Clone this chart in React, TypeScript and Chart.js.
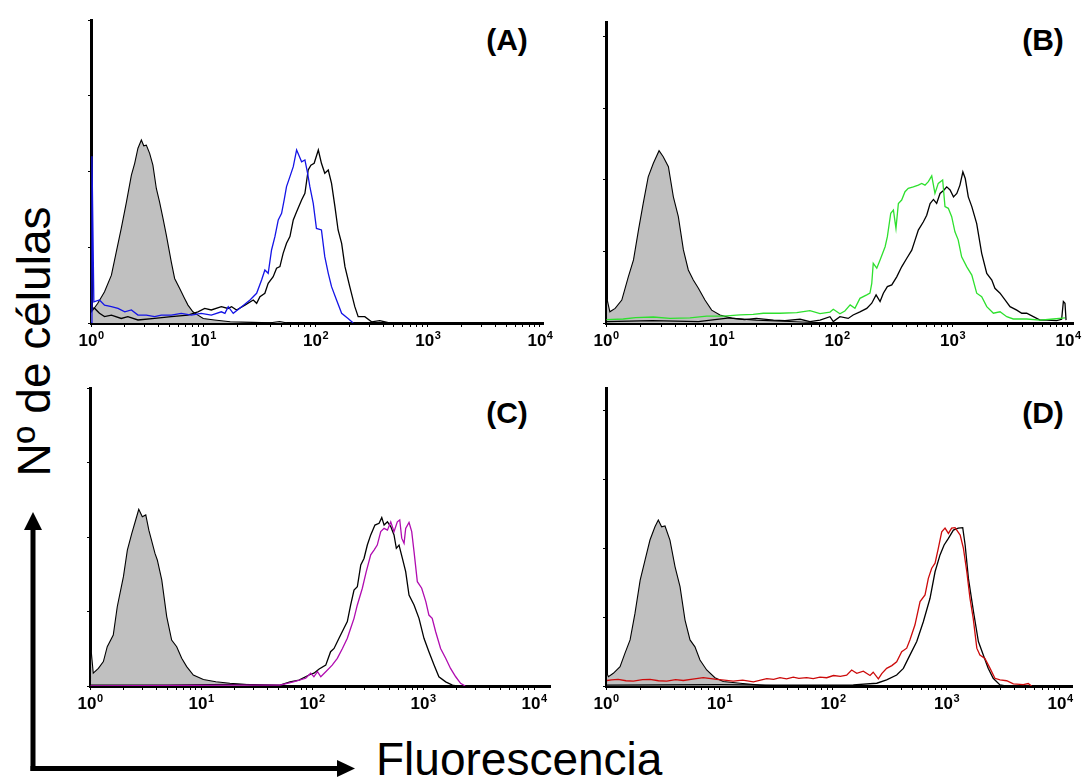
import React, { useEffect, useRef } from 'react';
import { Chart, registerables } from 'chart.js';

Chart.register(...registerables);

type Pt = [number, number];

// ---- axis ticks ----
const TICK_VALUES = [1, 10, 100, 1000, 10000];
const TICK_BASE = '10';
const TICK_EXPONENTS = ['0', '1', '2', '3', '4'];
const MINOR_MULTIPLIERS = [1, 2, 3, 4, 5, 6, 7, 8, 9];
const Y_TICK_STEP = 25;

// ---- panel labels / titles ----
const PANEL_LABELS = ['(A)', '(B)', '(C)', '(D)'];
const Y_TITLE = 'Nº de células';
const X_TITLE = 'Fluorescencia';

// ---- data: [fluorescence, cell count (% of axis)] ----
const A_CONTROL: Pt[] = [[1.0,3.5],[1.04,4.3],[1.15,6.5],[1.32,10.3],[1.52,15.8],[1.68,23.5],[1.86,31.2],[2.07,40],[2.29,48.8],[2.45,52.7],[2.62,57.7],[2.81,60.4],[2.95,58.5],[3.11,58.7],[3.33,56],[3.56,52.1],[3.82,44.4],[4.08,40],[4.38,34.5],[4.69,29],[5.19,20.2],[5.56,14.7],[6.17,11.4],[6.82,8.1],[7.31,5.9],[8.09,3.7],[8.97,2.6],[10,1.5],[12.6,1.0],[17.4,0.4],[27.5,0.2],[39.8,0.1],[47.9,0.5],[56.2,0]];
const A_BLACK: Pt[] = [[1.02,5],[1.08,4.8],[1.19,3.2],[1.32,2.1],[1.52,2.6],[1.86,1.5],[2.13,2.1],[2.62,1.0],[3.69,1.5],[5.19,2.1],[7.31,2.6],[8.97,3.7],[10.3,4.8],[11.8,4.3],[14.5,5.4],[16.6,4.8],[17.9,5.4],[19.8,4.3],[23.5,5.9],[27.9,7.6],[29.9,6.5],[32.0,8.7],[35.4,9.8],[37.9,13.1],[42.0,15.3],[45.0,18.1],[48.2,18.6],[51.5,23],[55.2,26.3],[59.2,28.5],[63.4,34],[67.9,36.7],[75.2,40.6],[80.5,42.8],[86.1,50.5],[91.0,52.1],[97.3,52.7],[106,57.1],[113,52.7],[121,49.4],[130,50.5],[139,46.1],[149,38.4],[159,30.7],[171,26.3],[183,18.6],[202,12],[224,5.4],[240,2.1],[275,2.1],[316,0.4],[374,0.8],[445,0.1],[562,0]];
const A_BLUE: Pt[] = [[1.0,0],[1.02,55],[1.06,7.0],[1.19,7.6],[1.32,5.9],[1.52,5.4],[1.74,4.8],[2.0,3.7],[2.29,4.3],[2.62,2.6],[3.11,2.6],[3.69,2.1],[4.23,2.6],[5.19,2.6],[6.37,3.2],[7.82,2.6],[9.59,3.2],[11.8,2.6],[14.5,3.7],[15.6,3.2],[16.7,5.4],[18.5,3.2],[22.0,5.4],[26.1,7.6],[29.9,9.8],[33.1,14.2],[35.4,17.5],[37.9,16.4],[40.6,24.1],[43.5,28.5],[46.6,34],[49.9,36.2],[52.6,40.6],[55.2,45],[59.2,48.3],[63.4,51.6],[67.9,57.1],[71.1,55.4],[75.2,53.2],[80.5,53.8],[85.1,49.4],[89.1,45],[95.5,39.5],[102,31.2],[113,30.7],[121,21.9],[130,16.4],[139,12],[154,7.6],[171,3.2],[195,1.5],[217,0]];

const B_CONTROL: Pt[] = [[1.0,0],[1.01,9.2],[1.08,3.9],[1.20,5.1],[1.37,8],[1.56,16.1],[1.73,22],[1.91,32.4],[2.10,41.7],[2.32,51],[2.57,55.7],[2.88,60.1],[3.13,58],[3.47,54.5],[3.83,44],[4.23,37.1],[4.68,25.5],[5.16,18.5],[5.70,15],[6.31,12.1],[7.19,8],[8.22,4.5],[9.70,2.8],[12.6,1.6],[20.0,1.0],[38.9,0.5],[75.9,0.1],[100,0]];
const B_BLACK: Pt[] = [[1.01,0.5],[2.51,0.8],[6.31,0.5],[11.7,1.8],[15.8,1.2],[20.0,1.6],[28.2,1.0],[35.5,0.8],[47.9,1.3],[58.3,0.5],[71.3,1.0],[86.9,2.2],[92.9,0.5],[106,2.2],[125,1.6],[138,2.8],[158,3.9],[181,5.1],[200,6.9],[218,9.8],[236,7.5],[252,10.4],[273,12.7],[298,13.3],[329,16.1],[363,19.6],[401,22.5],[444,25.4],[474,28.9],[506,32.4],[560,35.3],[598,37.6],[640,41.7],[684,43.1],[729,41.7],[780,45.2],[845,46.4],[891,47.5],[953,46.4],[1020,44],[1090,45.2],[1160,48.1],[1230,52.7],[1290,50.4],[1370,44],[1470,40.6],[1620,34.7],[1790,24.3],[1980,17.3],[2190,15],[2330,12.1],[2580,10.4],[2850,8.1],[3150,5.7],[3600,4.5],[3980,3.4],[4390,3.4],[5010,2.2],[5730,1.0],[6530,1.0],[7980,0.8],[8810,1.3],[9120,7.5],[9420,6.9],[9620,1.0]];
const B_GREEN: Pt[] = [[1.01,1.2],[1.41,1.4],[1.8,1.9],[2.57,2.1],[3.58,1.6],[5.33,1.8],[7.45,2.4],[10.4,2.4],[14.5,2.8],[18.8,3.0],[23.0,3.4],[32.1,3.4],[44.8,3.6],[58.3,4.3],[71.3,3.3],[86.9,3.8],[92.9,4.8],[106,3.2],[117,4.2],[130,6.3],[143,5.1],[158,8.6],[181,9.8],[193,10.4],[200,13.8],[206,20.8],[221,19.1],[236,22],[261,26.6],[273,30.1],[292,38.3],[308,39.4],[324,33],[340,41.7],[363,42.9],[388,45.8],[414,47],[458,47.5],[506,48.1],[541,48.7],[578,48.1],[618,49.3],[661,51.3],[705,45.2],[753,48.7],[822,49.9],[861,40.6],[920,40],[984,37.1],[1050,31.8],[1120,29],[1200,23.1],[1330,19.6],[1470,16.7],[1620,10.4],[1790,9.2],[1980,5.7],[2260,3.4],[2580,3.9],[2950,2.2],[3360,1.4],[4390,1.4],[5730,1.0],[7460,1.4],[9420,1.8]];

const C_CONTROL: Pt[] = [[1.0,0],[1.01,14.3],[1.07,4.3],[1.19,5.9],[1.32,8.2],[1.43,13.2],[1.62,17.1],[1.76,26.6],[2.0,36.7],[2.17,45.6],[2.38,51.2],[2.58,55.7],[2.75,59.3],[2.96,56.8],[3.18,57.4],[3.39,52.3],[3.85,44.5],[4.04,42.3],[4.43,35.6],[4.91,23.3],[5.44,15.4],[6.04,13.2],[6.70,9.3],[7.43,6.5],[8.53,3.7],[10.5,2.2],[13.6,1.4],[18.2,0.9],[29.6,0.3],[39.8,0]];
const C_BLACK: Pt[] = [[1.01,0.3],[5.0,0.3],[20,0.5],[40,0.4],[51.5,0.3],[63.4,1.4],[76.4,2.0],[94.0,3.7],[104,4.3],[116,5.7],[133,7.0],[147,11.5],[158,12.6],[175,16],[194,19.4],[208,21.6],[223,27.2],[239,32.2],[256,33.3],[275,40.6],[294,42.8],[315,47.3],[338,50.7],[369,54],[402,54.6],[425,56.5],[446,54],[478,55.1],[512,53.5],[548,50.7],[575,46.2],[608,47.3],[652,42.8],[698,38.4],[748,30.5],[830,27.2],[920,22.7],[1020,16],[1130,11.5],[1260,7.0],[1390,3.1],[1600,1.4],[1840,0.3],[2000,0]];
const C_MAGENTA: Pt[] = [[1.01,0],[20,0.3],[51.5,0.3],[67.9,1.4],[87.7,2.6],[97.3,4.3],[104,3.1],[112,4.8],[120,3.1],[133,4.8],[152,7.0],[169,9.3],[188,12.6],[208,16],[223,19.4],[239,22.7],[256,27.2],[284,32.8],[308,38.4],[338,44],[362,45.6],[387,47.3],[416,51.8],[446,52.9],[478,52.3],[512,55.1],[548,51.8],[587,55.1],[617,55.7],[643,49.6],[675,47.9],[698,52.9],[748,54.9],[791,51.8],[830,45.1],[889,35.0],[973,32.8],[1060,28.3],[1130,23.8],[1210,22.7],[1300,18.2],[1440,12.6],[1600,9.3],[1770,5.9],[1970,3.1],[2180,0.9],[2400,0]];

const D_CONTROL: Pt[] = [[1.0,0],[1.01,5],[1.05,3.4],[1.16,4.6],[1.33,7.0],[1.47,11.9],[1.63,16.7],[1.80,26.3],[2.0,38.4],[2.21,45.7],[2.44,52.9],[2.70,57.7],[2.89,60.2],[3.09,57.7],[3.31,58],[3.66,52.9],[4.06,43.2],[4.49,36],[4.97,23.9],[5.50,16.7],[6.08,14.2],[6.73,9.4],[7.71,5.8],[9.12,3.0],[10.8,1.6],[15.2,1.0],[21.3,0.4],[28.2,0]];
const D_BLACK: Pt[] = [[1.01,0.3],[10,0.5],[30,0.3],[100,0.3],[151,0.4],[243,1.0],[297,2.2],[364,4.0],[417,6.4],[476,11.2],[547,16.1],[625,23.3],[716,31.8],[793,41.4],[877,47.5],[953,51.1],[1040,53.5],[1150,56.5],[1270,57.2],[1390,57.4],[1460,51.1],[1560,39],[1730,26.9],[1910,16.1],[2110,11.2],[2330,6.4],[2580,2.8],[2960,0.4],[3310,0]];
const D_RED: Pt[] = [[1.02,2.0],[1.12,2.2],[1.28,2.4],[1.5,1.9],[1.74,1.8],[2.1,2.3],[2.44,2.4],[2.9,1.9],[3.43,1.8],[4.1,2.3],[4.80,2.0],[5.8,2.5],[7.19,3.0],[9.44,2.4],[11,2.1],[13.2,1.8],[16,2.1],[19.9,1.5],[26.1,2.7],[30,2.4],[34.1,3.0],[39,2.6],[44.7,3.2],[50,2.8],[58.6,3.0],[67,2.7],[76.7,3.2],[88,3.0],[101,3.8],[116,3.5],[132,3.9],[146,5.8],[162,4.6],[185,5.4],[212,3.8],[226,5.0],[251,2.6],[269,4.5],[297,6.4],[330,7.4],[364,8.8],[403,12.4],[446,13.7],[476,16.7],[527,22.1],[585,30.6],[647,33],[692,39],[741,42.7],[793,44.5],[847,49.9],[908,55.9],[971,57.2],[1040,55.3],[1110,57.2],[1190,57.4],[1320,54.7],[1410,49.9],[1510,41.4],[1610,31.8],[1720,24.5],[1850,13.7],[1970,11.2],[2180,10.0],[2420,6.4],[2670,2.8],[2960,2.2],[3390,1.9],[3880,0.8],[4750,0.5],[5250,0.9],[5620,0]];

const FONT = '"Liberation Sans", Arial, Helvetica, sans-serif';

interface PanelCfg {
  label: string;
  control: Pt[];
  black: Pt[];
  test: Pt[];
  color: string;
  left: number; right: number; top: number; bottom: number;
  xMax: number; yMax: number;
  labelX: number; labelY: number;
}

const PANELS: PanelCfg[] = [
  { label: PANEL_LABELS[0], control: A_CONTROL, black: A_BLACK, test: A_BLUE, color: '#1414e6',
    left: 91, right: 543, top: 20, bottom: 323, xMax: 10640, yMax: 100, labelX: 507, labelY: 42 },
  { label: PANEL_LABELS[1], control: B_CONTROL, black: B_BLACK, test: B_GREEN, color: '#2ee02e',
    left: 606, right: 1073, top: 22, bottom: 323, xMax: 11050, yMax: 105, labelX: 1043, labelY: 42 },
  { label: PANEL_LABELS[2], control: C_CONTROL, black: C_BLACK, test: C_MAGENTA, color: '#b00cb0',
    left: 90, right: 550, top: 388, bottom: 686, xMax: 13930, yMax: 100, labelX: 507, labelY: 415 },
  { label: PANEL_LABELS[3], control: D_CONTROL, black: D_BLACK, test: D_RED, color: '#cc0a0a',
    left: 606, right: 1072, top: 388, bottom: 686, xMax: 12760, yMax: 108, labelX: 1043, labelY: 415 },
];

const PAD_L = 20, PAD_T = 12, PAD_R = 22, PAD_B = 32;

function logTicks() {
  const ticks: { value: number; major: boolean }[] = [];
  for (let d = 0; d < TICK_VALUES.length - 1; d++) {
    for (const m of MINOR_MULTIPLIERS) {
      ticks.push({ value: m * TICK_VALUES[d], major: m === 1 });
    }
  }
  ticks.push({ value: TICK_VALUES[TICK_VALUES.length - 1], major: true });
  return ticks;
}

// draws "10" with a raised exponent under each decade tick
const powerLabels = {
  id: 'powerLabels',
  afterDraw(chart: any) {
    const { ctx, chartArea } = chart;
    const x = chart.scales.x;
    ctx.save();
    ctx.fillStyle = '#000';
    ctx.textBaseline = 'alphabetic';
    ctx.textAlign = 'left';
    TICK_VALUES.forEach((v, i) => {
      const px = x.getPixelForValue(v);
      ctx.font = `bold 17px ${FONT}`;
      const wb = ctx.measureText(TICK_BASE).width;
      ctx.font = `bold 11px ${FONT}`;
      const we = ctx.measureText(TICK_EXPONENTS[i]).width;
      const x0 = px - (wb + we) / 2;
      ctx.font = `bold 17px ${FONT}`;
      ctx.fillText(TICK_BASE, x0, chartArea.bottom + 23);
      ctx.font = `bold 11px ${FONT}`;
      ctx.fillText(TICK_EXPONENTS[i], x0 + wb + 0.5, chartArea.bottom + 15.5);
    });
    ctx.restore();
  },
};

const toXY = (pts: Pt[]) => pts.map(([x, y]) => ({ x, y }));

function Panel({ p }: { p: PanelCfg }) {
  const ref = useRef<HTMLCanvasElement>(null);
  const W = p.right - p.left + PAD_L + PAD_R;
  const H = p.bottom - p.top + PAD_T + PAD_B;
  useEffect(() => {
    if (!ref.current) return;
    const line = { pointRadius: 0, tension: 0, fill: false, borderWidth: 1.3 };
    // Chart.js paints the first dataset on top: coloured test, then black, then the filled control underneath
    const chart = new Chart(ref.current, {
      type: 'line',
      data: {
        datasets: [
          { ...line, data: toXY(p.test), borderColor: p.color },
          { ...line, data: toXY(p.black), borderColor: '#000' },
          { ...line, data: toXY(p.control), borderColor: '#000', backgroundColor: '#c0c0c0', fill: 'origin', borderWidth: 1.1 },
        ],
      },
      plugins: [powerLabels],
      options: {
        responsive: false,
        animation: false,
        events: [],
        layout: { padding: { top: PAD_T, right: PAD_R, left: 0, bottom: 0 }, autoPadding: false },
        plugins: { legend: { display: false }, tooltip: { enabled: false }, title: { display: false } },
        scales: {
          x: {
            type: 'logarithmic',
            min: 1,
            max: p.xMax,
            afterFit: (s: any) => { s.height = PAD_B; },
            afterBuildTicks: (s: any) => { s.ticks = logTicks(); },
            ticks: { display: false, autoSkip: false },
            grid: { drawOnChartArea: false, drawTicks: true, tickLength: 4, color: '#000', tickColor: '#000', lineWidth: 1 },
            border: { display: true, color: '#000', width: 3 },
          },
          y: {
            type: 'linear',
            min: 0,
            max: p.yMax,
            afterFit: (s: any) => { s.width = PAD_L; },
            afterBuildTicks: (s: any) => { s.ticks = s.ticks.filter((t: any) => t.value % Y_TICK_STEP === 0); },
            ticks: { display: false, stepSize: Y_TICK_STEP },
            grid: { drawOnChartArea: false, drawTicks: true, tickLength: 3, color: '#000', tickColor: '#000', lineWidth: 1 },
            border: { display: true, color: '#000', width: 3 },
          },
        },
      } as any,
    });
    return () => chart.destroy();
  }, []);
  return (
    <canvas
      ref={ref}
      width={W}
      height={H}
      style={{ position: 'absolute', left: p.left - PAD_L, top: p.top - PAD_T, width: W, height: H }}
    />
  );
}

export default function App() {
  return (
    <div style={{ position: 'absolute', left: 0, top: 0, width: 1085, height: 778, background: '#fff', overflow: 'hidden' }}>
      <svg width={1085} height={778} style={{ position: 'absolute', left: 0, top: 0 }}>
        <text
          transform="translate(50,341.5) rotate(-90)"
          textAnchor="middle"
          fontFamily={FONT}
          fontSize={46}
          fill="#000"
        >{Y_TITLE}</text>
        <text x={376} y={775} fontFamily={FONT} fontSize={46} fill="#000">{X_TITLE}</text>
        <line x1={33} y1={771} x2={33} y2={526} stroke="#000" strokeWidth={5} />
        <polygon points="24,530 42,530 33,512" fill="#000" />
        <line x1={30.5} y1={768.5} x2={340} y2={768.5} stroke="#000" strokeWidth={5} />
        <polygon points="337,760 337,777 355,768.5" fill="#000" />
        {PANELS.map((p) => (
          <text key={p.label} x={p.labelX} y={p.labelY + 7.8} textAnchor="middle" fontFamily={FONT} fontWeight="bold" fontSize={30} fill="#000">
            {p.label}
          </text>
        ))}
      </svg>
      {PANELS.map((p) => <Panel key={p.label} p={p} />)}
    </div>
  );
}
